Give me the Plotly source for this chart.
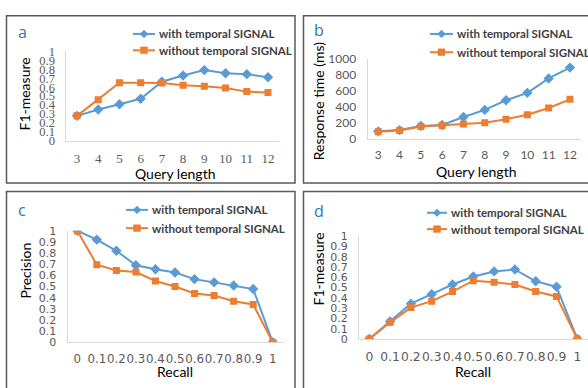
import plotly.graph_objects as go

W, H = 588, 388

# ---------------- data ----------------
query_len = ["3", "4", "5", "6", "7", "8", "9", "10", "11", "12"]
recall = ["0", "0.1", "0.2", "0.3", "0.4", "0.5", "0.6", "0.7", "0.8", "0.9", "1"]

a_with = [0.28, 0.35, 0.41, 0.47, 0.66, 0.73, 0.79, 0.755, 0.745, 0.71]
a_without = [0.28, 0.46, 0.65, 0.65, 0.645, 0.62, 0.61, 0.59, 0.55, 0.54]

b_with = [93, 109, 161, 173, 274, 363, 484, 577, 758, 895]
b_without = [89, 105, 153, 165, 185, 202, 246, 302, 387, 496]

c_with = [1.0, 0.92, 0.82, 0.69, 0.655, 0.626, 0.566, 0.537, 0.509, 0.477, 0.0]
c_without = [1.0, 0.695, 0.644, 0.63, 0.549, 0.5, 0.437, 0.42, 0.368, 0.339, 0.0]

d_with = [0.0, 0.171, 0.343, 0.436, 0.53, 0.607, 0.657, 0.676, 0.561, 0.508, 0.0]
d_without = [0.0, 0.162, 0.305, 0.368, 0.461, 0.567, 0.551, 0.53, 0.461, 0.414, 0.0]

series_names = ["with temporal SIGNAL", "without temporal SIGNAL"]

# ---------------- style ----------------
BLUE = "#5B9BD5"
ORANGE = "#ED7D31"
TICK_GRAY = "#595959"
AXIS_LINE = "#D9D9D9"
LABEL_BLUE = "#2E75B6"
SANS = "Lato"


def px2x(px):
    return px / W


def px2y(py):
    return 1 - py / H


fig = go.Figure()

panels = [
    dict(cats=query_len, w=a_with, wo=a_without, xd=(66.4, 278.6), yd=(138.3, 45.0),
         yr=[0, 1], dt=0.1, xtl=5, tfont=dict(family="Liberation Serif", size=13, color=TICK_GRAY),
         ytfont=dict(family="Liberation Serif", size=12.5, color=TICK_GRAY)),
    dict(cats=query_len, w=b_with, wo=b_without, xd=(367.6, 580.6), yd=(136.0, 53.3),
         yr=[0, 1000], dt=200, xtl=5, tfont=dict(family=SANS, size=12, color=TICK_GRAY),
         ytfont=dict(family=SANS, size=12, color=TICK_GRAY)),
    dict(cats=recall, w=c_with, wo=c_without, xd=(67.5, 282.5), yd=(347.7, 231.7),
         yr=[0, 1], dt=0.1, xtl=6, tfont=dict(family="DejaVu Sans", size=11.8, color=TICK_GRAY),
         ytfont=dict(family="DejaVu Sans", size=11, color=TICK_GRAY)),
    dict(cats=recall, w=d_with, wo=d_without, xd=(358.9, 587.7), yd=(344.3, 237.3),
         yr=[0, 1], dt=0.1, xtl=6, tfont=dict(family="DejaVu Sans", size=12.3, color=TICK_GRAY),
         ytfont=dict(family="DejaVu Sans", size=11, color=TICK_GRAY)),
]

layout_axes = {}
for i, p in enumerate(panels):
    n = i + 1
    xa = "x" if n == 1 else f"x{n}"
    ya = "y" if n == 1 else f"y{n}"
    fig.add_trace(go.Scatter(
        x=p["cats"], y=p["w"], xaxis=xa, yaxis=ya, mode="lines+markers",
        name=series_names[0], showlegend=False,
        line=dict(color=BLUE, width=2),
        marker=dict(symbol="diamond", size=8, color=BLUE)))
    fig.add_trace(go.Scatter(
        x=p["cats"], y=p["wo"], xaxis=xa, yaxis=ya, mode="lines+markers",
        name=series_names[1], showlegend=False,
        line=dict(color=ORANGE, width=2),
        marker=dict(symbol="square", size=7, color=ORANGE)))
    xkey = "xaxis" if n == 1 else f"xaxis{n}"
    ykey = "yaxis" if n == 1 else f"yaxis{n}"
    layout_axes[xkey] = dict(
        domain=[px2x(p["xd"][0]), px2x(p["xd"][1])],
        anchor=ya, type="category", range=[-0.5, len(p["cats"]) - 0.5],
        showgrid=False, zeroline=False, showline=True, linecolor=AXIS_LINE, linewidth=1,
        ticks="outside", ticklen=p["xtl"], tickcolor="rgba(0,0,0,0)", tickangle=0,
        tickfont=p["tfont"], fixedrange=True)
    layout_axes[ykey] = dict(
        domain=[px2y(p["yd"][0]), px2y(p["yd"][1])],
        anchor=xa, range=p["yr"], dtick=p["dt"], tick0=0,
        showgrid=False, zeroline=False, showline=True, linecolor=AXIS_LINE, linewidth=1,
        ticks="outside", ticklen=8, tickcolor="rgba(0,0,0,0)",
        tickfont=p["ytfont"], fixedrange=True)

fig.update_layout(**layout_axes)

# panel borders
shapes = []
borders = [(6.5, 8, 295, 182), (303.5, 8, 592, 182), (6.5, 191, 295, 400), (303.5, 191, 592, 400)]
for x0, y0, x1, y1 in borders:
    shapes.append(dict(type="rect", xref="paper", yref="paper",
                       x0=px2x(x0), x1=px2x(x1), y0=px2y(y0), y1=px2y(y1),
                       line=dict(color="#5A5A5A", width=1.5), fillcolor="rgba(0,0,0,0)"))

annotations = []
letters = [("a", 22, 25), ("b", 319, 23), ("c", 22, 210), ("d", 319, 211)]
for t, x, y in letters:
    annotations.append(dict(text=t, x=px2x(x), y=px2y(y), xref="paper", yref="paper",
                            showarrow=False, xanchor="center", yanchor="middle",
                            font=dict(family="Open Sans", size=16, color=LABEL_BLUE)))

titles_x = [("Query length", 172, 0), ("Query length", 170, 1), ("Recall", 378, 2), ("Recall", 378, 3)]
for t, y, i in titles_x:
    xd = panels[i]["xd"]
    annotations.append(dict(text=t, x=px2x((xd[0] + xd[1]) / 2 + (2 if i < 2 else 0)), y=px2y(y),
                            xref="paper", yref="paper", showarrow=False,
                            xanchor="center", yanchor="middle",
                            font=dict(family=SANS, size=14, color="#000000")))
titles_y = [("F1-measure", 25, 90), ("Response time (ms)", 318, 97), ("Precision", 25, 273), ("F1-measure", 318, 272)]
for t, x, y in titles_y:
    annotations.append(dict(text=t, x=px2x(x), y=px2y(y), xref="paper", yref="paper",
                            showarrow=False, textangle=-90, xanchor="center", yanchor="middle",
                            font=dict(family=SANS, size=14, color="#000000")))

legends = [
    (133, 155, 27, 44),
    (430, 453, 27, 46),
    (126, 148, 210, 229),
    (427, 447, 213, 230),
]
for lx0, lx1, yw, ywo in legends:
    for yy, col, sym, nm in [(yw, BLUE, "diamond", series_names[0]), (ywo, ORANGE, "square", series_names[1])]:
        shapes.append(dict(type="line", xref="paper", yref="paper",
                           x0=px2x(lx0), x1=px2x(lx1), y0=px2y(yy), y1=px2y(yy),
                           line=dict(color=col, width=2)))
        cx = (lx0 + lx1) / 2
        if sym == "diamond":
            path = (f"M {px2x(cx - 4)} {px2y(yy)} L {px2x(cx)} {px2y(yy - 4)} "
                    f"L {px2x(cx + 4)} {px2y(yy)} L {px2x(cx)} {px2y(yy + 4)} Z")
            shapes.append(dict(type="path", xref="paper", yref="paper", path=path,
                               fillcolor=col, line=dict(color=col, width=0.5)))
        else:
            shapes.append(dict(type="rect", xref="paper", yref="paper",
                               x0=px2x(cx - 3.5), x1=px2x(cx + 3.5), y0=px2y(yy - 3.5), y1=px2y(yy + 3.5),
                               fillcolor=col, line=dict(color=col, width=0.5)))
        annotations.append(dict(text=f"<b>{nm}</b>", x=px2x(lx1 + 1.5), y=px2y(yy), xref="paper", yref="paper",
                                showarrow=False, xanchor="left", yanchor="middle",
                                font=dict(family=SANS, size=11.5, color="#404040")))

fig.update_layout(
    width=W, height=H, margin=dict(l=0, r=0, t=0, b=0),
    paper_bgcolor="white", plot_bgcolor="white",
    shapes=shapes, annotations=annotations, showlegend=False,
)

fig.write_html("out.html", config={"displayModeBar": False},
               post_script="document.body.style.margin='0';document.body.style.overflow='hidden';")
